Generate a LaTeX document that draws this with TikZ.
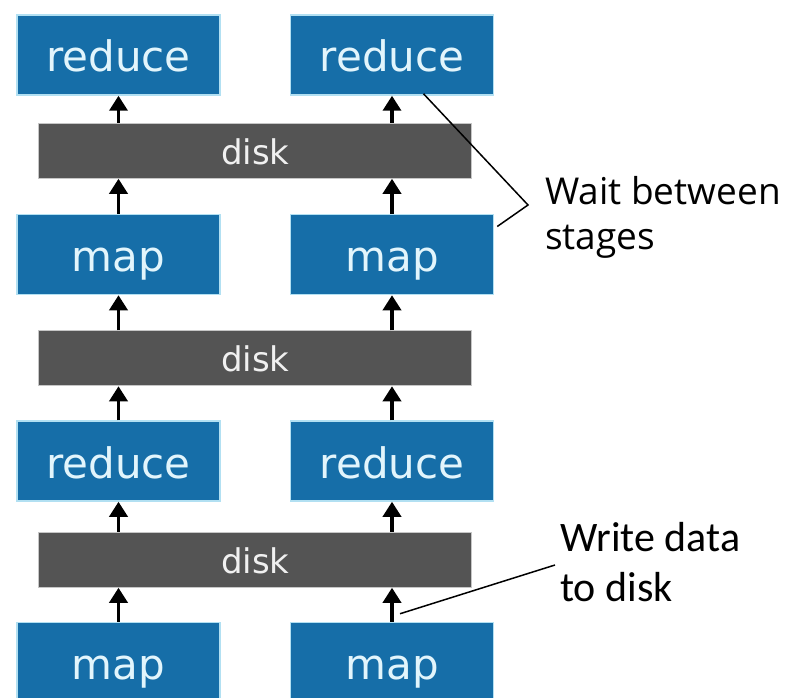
\documentclass[tikz,border=0pt]{standalone}
\usepackage{fontspec}
\setmainfont{Open Sans}
\newfontfamily\boxfont{DejaVu Sans}
\newfontfamily\notefont{Carlito}
\usetikzlibrary{
  arrows.meta, % for the Triangle arrow tip
  positioning, % for relative placement of the boxes and bars
}
\definecolor{stageblue}{RGB}{22,110,168}
\definecolor{stageedge}{RGB}{178,224,242}
\definecolor{stagetext}{RGB}{226,245,252}
\definecolor{diskgray}{RGB}{84,84,84}
\tikzset{
  stage/.style={ % style for the map and reduce boxes
    rectangle,fill=stageblue,draw=stageedge,line width=1.5pt, % blue with a pale rim
    minimum width=203pt,minimum height=80pt, % every box the same size
    inner sep=0pt,text height=34pt,text depth=0pt, % keeps the words low in the box
    text=stagetext,font=\boxfont\fontsize{42}{42}\selectfont,
  },
  diskbar/.style={ % style for the wide disk bars
    rectangle,fill=diskgray,draw=gray!45,line width=1pt,
    minimum width=433pt,minimum height=55pt,
    inner sep=0pt,text height=27pt,text depth=0pt,
    text=white!88!gray,font=\boxfont\fontsize{34}{34}\selectfont,
  },
  conn/.style={ % style for the upward arrows
    -{Triangle[width=18pt,length=15pt]}, % solid triangle tip
    line width=3.5pt,
  },
  note/.style={ % style for the side notes
    anchor=north west,align=left,inner sep=0pt,
  },
  pointer/.style={ % thin lines from the notes
    line width=1.5pt,
  },
}

\begin{document}
\begin{tikzpicture}[x=1pt,y=1pt]
	\fill[white] (0,0) rectangle (790,-698);
	\useasboundingbox (0,0) rectangle (790,-698);
	
	\node[stage] (redL1) at (118.5,-55) {reduce};
	\node[stage] (redR1) [right=69pt of redL1] {reduce};
	
	\node[diskbar] (disk1) [below=27pt of redL1.south east, xshift=34.5pt] {disk};
	
	\node[stage] (mapL2) [below=118pt of redL1] {map};
	\node[stage] (mapR2) [below=118pt of redR1] {map};
	
	\node[diskbar] (disk2) [below=35pt of mapL2.south east, xshift=34.5pt] {disk};
	
	\node[stage] (redL3) [below=125pt of mapL2] {reduce};
	\node[stage] (redR3) [below=125pt of mapR2] {reduce};
	
	\node[diskbar] (disk3) [below=30pt of redL3.south east, xshift=34.5pt] {disk};
	
	\node[stage] (mapL4) [below=120pt of redL3] {map};
	\node[stage] (mapR4) [below=120pt of redR3] {map};
	
	% arrows up through the stages
	\draw[conn] (disk1.north -| redL1) -- (redL1.south);
	\draw[conn] (disk1.north -| redR1) -- (redR1.south);
	\draw[conn] (mapL2.north) -- (disk1.south -| mapL2);
	\draw[conn] (mapR2.north) -- (disk1.south -| mapR2);
	\draw[conn] (disk2.north -| mapL2) -- (mapL2.south);
	\draw[conn] (disk2.north -| mapR2) -- (mapR2.south);
	\draw[conn] (redL3.north) -- (disk2.south -| redL3);
	\draw[conn] (redR3.north) -- (disk2.south -| redR3);
	\draw[conn] (disk3.north -| redL3) -- (redL3.south);
	\draw[conn] (disk3.north -| redR3) -- (redR3.south);
	\draw[conn] (mapL4.north) -- (disk3.south -| mapL4);
	\draw[conn] (mapR4.north) -- (disk3.south -| mapR4);
	
	% notes
	\node[note, font=\fontsize{37}{45}\selectfont] (wait) at (545,-176) {Wait between\\stages};
	\node[note, font=\notefont\fontsize{42}{50}\selectfont] (write) at (560,-522) {Write data\\to disk};
	
	\coordinate (waitA) at ([xshift=31.5pt,yshift=2pt]redR1.south);
	\coordinate (waitB) at (528,-205);
	\coordinate (waitC) at ([xshift=3pt,yshift=28pt]mapR2.east);
	\draw[pointer] (waitA) -- (waitB) -- (waitC);
	
	\coordinate (writeA) at (555,-565);
	\coordinate (writeB) at ([xshift=8pt,yshift=8pt]mapR4.north);
	\draw[pointer] (writeA) -- (writeB);
\end{tikzpicture}
\end{document}
